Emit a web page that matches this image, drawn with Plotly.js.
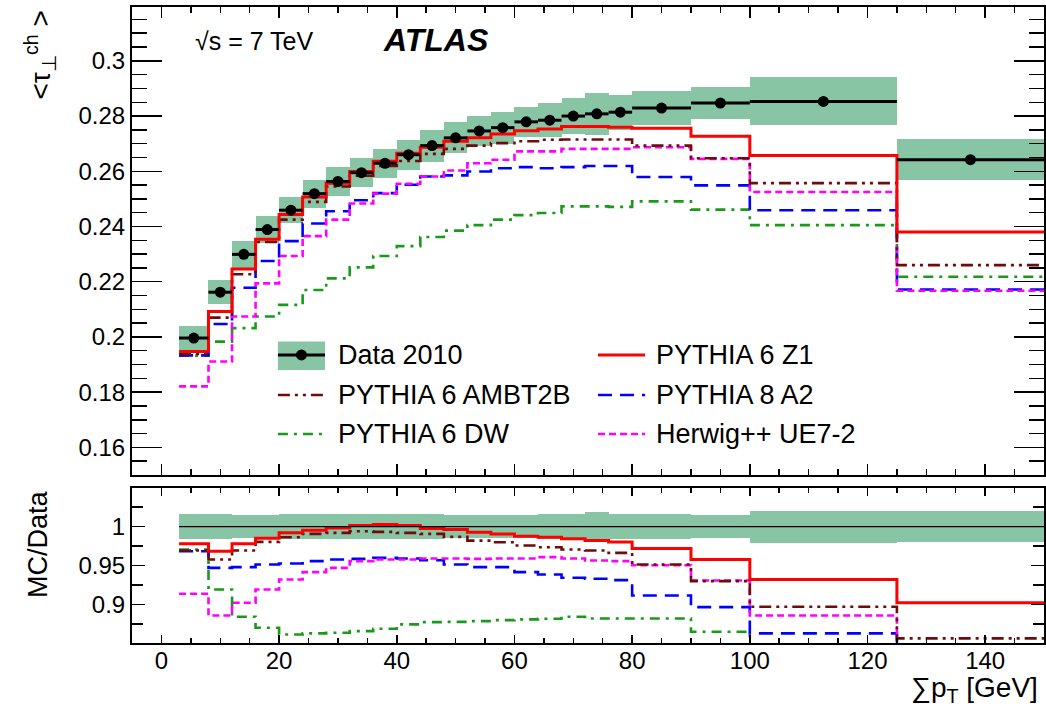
<!DOCTYPE html>
<html><head><meta charset="utf-8">
<script src="https://cdn.plot.ly/plotly-3.0.1.min.js"></script>
<style>html,body{margin:0;padding:0;background:#fff}#chart{width:1046px;height:708px}</style>
</head><body><div id="chart"></div>
<script>
// ---- data ----
const binEdges = [3,8,12,16,20,24,28,32,36,40,44,48,52,56,60,64,68,72,76,80,90,100,125,150];

const data2010 = [0.1996,0.2162,0.2299,0.2389,0.2459,0.2519,0.2563,0.2595,0.2629,0.2660,0.2693,0.2721,0.2746,0.2758,0.2779,0.2785,0.2800,0.2808,0.2814,0.2829,0.2847,0.2853,0.2642];
const dataSyst = [0.0043,0.0044,0.0048,0.0048,0.0047,0.0051,0.0054,0.0052,0.0052,0.0054,0.0058,0.0056,0.0056,0.0058,0.0055,0.0061,0.0065,0.0076,0.0064,0.0062,0.0059,0.0087,0.0074];

const py6Z1     = [0.1947,0.2092,0.2246,0.2354,0.2443,0.2507,0.2557,0.2599,0.2636,0.2665,0.2687,0.2709,0.2721,0.2735,0.2747,0.2753,0.2762,0.2762,0.2759,0.2756,0.2727,0.2657,0.2380];
const py6AMBT2B = [0.1938,0.2070,0.2227,0.2344,0.2425,0.2489,0.2545,0.2584,0.2619,0.2637,0.2663,0.2681,0.2693,0.2702,0.2709,0.2714,0.2715,0.2715,0.2715,0.2693,0.2647,0.2557,0.2260];
const py6DW     = [0.1932,0.1983,0.2032,0.2074,0.2116,0.2170,0.2212,0.2252,0.2293,0.2329,0.2362,0.2385,0.2405,0.2425,0.2441,0.2449,0.2473,0.2473,0.2471,0.2491,0.2461,0.2405,0.2218];
const py8A2     = [0.1933,0.2047,0.2178,0.2275,0.2347,0.2411,0.2455,0.2495,0.2521,0.2551,0.2581,0.2585,0.2599,0.2611,0.2615,0.2611,0.2615,0.2619,0.2619,0.2579,0.2549,0.2459,0.2172];
const herwigUE72= [0.1821,0.1911,0.2074,0.2194,0.2293,0.2365,0.2425,0.2483,0.2519,0.2555,0.2581,0.2603,0.2629,0.2642,0.2672,0.2672,0.2681,0.2681,0.2681,0.2687,0.2645,0.2525,0.2167];

// MC/Data ratio panel
const ratioBand   = [0.0155,0.0155,0.0145,0.0145,0.0155,0.0155,0.0155,0.0155,0.0155,0.0158,0.0160,0.0150,0.0150,0.0150,0.0150,0.0163,0.0163,0.0184,0.0163,0.0155,0.0150,0.0205,0.0195];
const rZ1     = [0.9778,0.9684,0.9778,0.9850,0.9919,0.9953,0.9983,1.0013,1.0026,1.0013,0.9976,0.9962,0.9927,0.9906,0.9876,0.9863,0.9842,0.9820,0.9803,0.9718,0.9577,0.9320,0.9022];
const rAMBT2B = [0.9692,0.9577,0.9692,0.9803,0.9863,0.9906,0.9919,0.9940,0.9932,0.9919,0.9906,0.9868,0.9820,0.9799,0.9756,0.9735,0.9705,0.9692,0.9662,0.9513,0.9299,0.8970,0.8564];
const rDW     = [0.9705,0.9192,0.8842,0.8701,0.8615,0.8628,0.8637,0.8658,0.8688,0.8744,0.8773,0.8776,0.8786,0.8799,0.8808,0.8817,0.8842,0.8820,0.8820,0.8820,0.8650,0.8430,0.8400];
const rA2     = [0.9684,0.9470,0.9479,0.9513,0.9526,0.9556,0.9577,0.9585,0.9598,0.9590,0.9568,0.9513,0.9479,0.9479,0.9415,0.9385,0.9342,0.9330,0.9312,0.9115,0.8966,0.8628,0.8220];
const rUE72   = [0.9137,0.8859,0.9022,0.9192,0.9320,0.9415,0.9470,0.9556,0.9577,0.9577,0.9590,0.9590,0.9585,0.9590,0.9590,0.9607,0.9590,0.9564,0.9556,0.9504,0.9308,0.8859,0.8200];

const dataName = 'Data 2010';
const seriesNames = ['PYTHIA 6 Z1','PYTHIA 6 AMBT2B','PYTHIA 8 A2','PYTHIA 6 DW','Herwig++ UE7-2'];

// ---- style ----
const FONT = 'Liberation Sans, Arial, Helvetica, sans-serif';
const BAND = '#88c5a5';
const styles = {
  'PYTHIA 6 Z1':     {color:'#ff0000', dash:'solid', width:3},
  'PYTHIA 6 AMBT2B': {color:'#6e0b0b', dash:'12px,5px,3px,5px,3px,5px', width:2.6},
  'PYTHIA 8 A2':     {color:'#0000ff', dash:'14px,8px', width:2.6},
  'PYTHIA 6 DW':     {color:'#1a9a1a', dash:'10px,6px,3px,6px', width:2.6},
  'Herwig++ UE7-2':  {color:'#ff00ff', dash:'7px,4px', width:2.6}
};
const topVals = {'PYTHIA 6 Z1':py6Z1,'PYTHIA 6 AMBT2B':py6AMBT2B,'PYTHIA 8 A2':py8A2,'PYTHIA 6 DW':py6DW,'Herwig++ UE7-2':herwigUE72};
const ratioVals = {'PYTHIA 6 Z1':rZ1,'PYTHIA 6 AMBT2B':rAMBT2B,'PYTHIA 8 A2':rA2,'PYTHIA 6 DW':rDW,'Herwig++ UE7-2':rUE72};

const centers = binEdges.slice(0,-1).map((e,i)=>(e+binEdges[i+1])/2);
const widths  = binEdges.slice(0,-1).map((e,i)=>binEdges[i+1]-e);
const stepY = v => v.concat([v[v.length-1]]);

const traces = [];
// systematic band, top
traces.push({type:'bar', x:centers, width:widths,
  base:data2010.map((v,i)=>v-dataSyst[i]), y:dataSyst.map(e=>2*e),
  marker:{color:BAND, line:{width:0}}, xaxis:'x', yaxis:'y', hoverinfo:'skip'});
// band, ratio
traces.push({type:'bar', x:centers, width:widths,
  base:ratioBand.map(e=>1-e), y:ratioBand.map(e=>2*e),
  marker:{color:BAND, line:{width:0}}, xaxis:'x2', yaxis:'y2', hoverinfo:'skip'});

const drawOrder = ['PYTHIA 6 DW','PYTHIA 8 A2','Herwig++ UE7-2','PYTHIA 6 AMBT2B','PYTHIA 6 Z1'];
drawOrder.forEach(n=>{
  const s = styles[n];
  traces.push({type:'scatter', mode:'lines', name:n, x:binEdges, y:stepY(topVals[n]),
    line:{shape:'hv', color:s.color, dash:s.dash, width:s.width}, xaxis:'x', yaxis:'y', hoverinfo:'skip'});
  traces.push({type:'scatter', mode:'lines', name:n, x:binEdges, y:stepY(ratioVals[n]),
    line:{shape:'hv', color:s.color, dash:s.dash, width:s.width}, xaxis:'x2', yaxis:'y2', hoverinfo:'skip'});
});
// data points
traces.push({type:'scatter', mode:'markers', name:dataName, x:centers, y:data2010,
  marker:{color:'#000', size:11},
  error_x:{type:'data', array:widths.map(w=>w/2), symmetric:true, color:'#000', thickness:3, width:0},
  xaxis:'x', yaxis:'y', hoverinfo:'skip'});

// ---- legend (drawn in top-panel data coordinates) ----
const legX = [[19.8,27.8,29.7],[74.2,82.2,83.7]];
const legY = [0.19346,0.17897,0.16485];
const legendLayout = [[dataName,0,0],['PYTHIA 6 Z1',1,0],['PYTHIA 6 AMBT2B',0,1],['PYTHIA 8 A2',1,1],['PYTHIA 6 DW',0,2],['Herwig++ UE7-2',1,2]];
const shapes = [];
const annotations = [];
legendLayout.forEach(([n,c,r])=>{
  const [x0,x1,xt] = legX[c], y = legY[r];
  if(n===dataName){
    shapes.push({type:'rect', xref:'x', yref:'y', x0:x0, x1:x1, y0:0.18803, y1:0.19835, fillcolor:BAND, line:{width:0}});
    shapes.push({type:'line', xref:'x', yref:'y', x0:x0, x1:x1, y0:y, y1:y, line:{color:'#000', width:3}});
    shapes.push({type:'circle', xref:'x', yref:'y', xsizemode:'pixel', ysizemode:'pixel', xanchor:(x0+x1)/2, yanchor:y, x0:-5.5, x1:5.5, y0:-5.5, y1:5.5, fillcolor:'#000', line:{width:0}});
  } else {
    const s = styles[n];
    shapes.push({type:'line', xref:'x', yref:'y', x0:x0, x1:x1, y0:y, y1:y, line:{color:s.color, width:s.width, dash:s.dash}});
  }
  annotations.push({xref:'x', yref:'y', x:xt, y:y, xanchor:'left', yanchor:'middle', showarrow:false, text:n, font:{family:FONT, size:27, color:'#000'}});
});
// ratio reference line at 1
shapes.push({type:'line', xref:'x2', yref:'y2', x0:binEdges[0], x1:binEdges[binEdges.length-1], y0:1, y1:1, line:{color:'#000', width:1.2}, layer:'above'});

annotations.push({xref:'x', yref:'y', x:15.9, y:0.3072, xanchor:'center', yanchor:'middle', showarrow:false, text:'√s = 7 TeV', font:{family:FONT, size:25, color:'#000'}});
annotations.push({xref:'x', yref:'y', x:46.7, y:0.3076, xanchor:'center', yanchor:'middle', showarrow:false, text:'<b><i>ATLAS</i></b>', font:{family:FONT, size:32, color:'#000'}});
annotations.push({xref:'paper', yref:'paper', x:-0.1009, y:0.9984, xanchor:'center', yanchor:'top', textangle:-90, showarrow:false, text:'&lt;τ<sub>⊥</sub><sup>ch</sup> &gt;', font:{family:FONT, size:28, color:'#000'}});
annotations.push({xref:'paper', yref:'paper', x:-0.1031, y:0.2437, xanchor:'center', yanchor:'top', textangle:-90, showarrow:false, text:'MC/Data', font:{family:FONT, size:27, color:'#000'}});
annotations.push({xref:'paper', yref:'paper', x:0.9956, y:-0.1035, xanchor:'right', yanchor:'bottom', showarrow:false, text:'∑p<sub>T</sub> [GeV]', font:{family:FONT, size:28, color:'#000'}});

const axisCommon = {showline:true, linecolor:'#000', linewidth:2, mirror:'ticks', showgrid:false, zeroline:false,
  ticks:'inside', tickcolor:'#000', tickwidth:1.5, tickfont:{family:FONT, size:24, color:'#000'}};

const layout = {
  width:1046, height:708,
  margin:{l:132, r:2, t:7, b:65},
  paper_bgcolor:'#fff', plot_bgcolor:'rgba(0,0,0,0)',
  font:{family:FONT, size:24, color:'#000'},
  showlegend:false, barmode:'overlay', bargap:0,
  xaxis:Object.assign({}, axisCommon, {domain:[0,1], range:[-5,150], anchor:'y', showticklabels:false,
    tick0:0, dtick:20, ticklen:11, minor:{tick0:0, dtick:5, ticks:'inside', ticklen:6, tickwidth:1.5, tickcolor:'#000', showgrid:false}}),
  yaxis:Object.assign({}, axisCommon, {domain:[0.2642,1], range:[0.150,0.3195], anchor:'x',
    tick0:0, dtick:0.02, ticklen:30, minor:{tick0:0, dtick:0.005, ticks:'inside', ticklen:15, tickwidth:1.5, tickcolor:'#000', showgrid:false}}),
  xaxis2:Object.assign({}, axisCommon, {domain:[0,1], range:[-5,150], anchor:'y2', ticklabelstandoff:-5,
    tick0:0, dtick:20, ticklen:8, minor:{tick0:0, dtick:5, ticks:'inside', ticklen:5, tickwidth:1.5, tickcolor:'#000', showgrid:false}}),
  yaxis2:Object.assign({}, axisCommon, {domain:[0,0.2437], range:[0.8505,1.0495], anchor:'x2',
    tick0:0, dtick:0.05, ticklen:13, minor:{tick0:0, dtick:0.025, ticks:'inside', ticklen:11, tickwidth:1.5, tickcolor:'#000', showgrid:false}}),
  shapes:shapes, annotations:annotations
};

Plotly.newPlot('chart', traces, layout, {staticPlot:true, displayModeBar:false});
</script></body></html>
